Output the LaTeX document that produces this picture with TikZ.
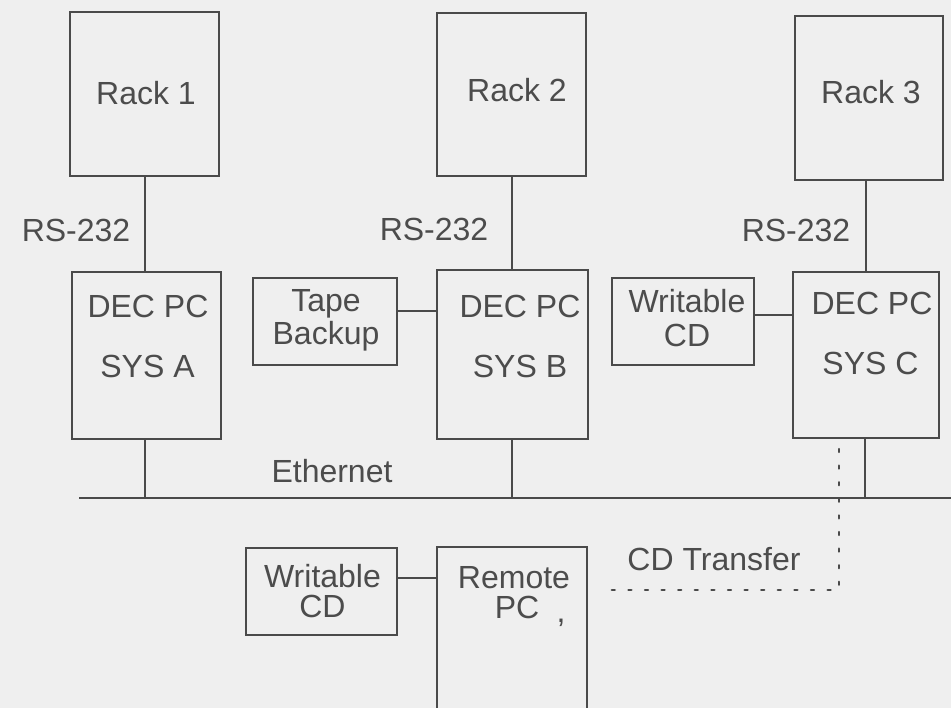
\documentclass[tikz,border=0pt]{standalone}
\usepackage{fontspec}
\setmainfont{Liberation Sans}
\definecolor{ink}{HTML}{4A4A4A}
\definecolor{txt}{HTML}{4C4C4C}
\definecolor{paper}{HTML}{EFEFEF}
\begin{document}
\begin{tikzpicture}[x=1pt,y=-1pt,
  box/.style={draw=ink,line width=2pt,rectangle,inner sep=0pt},
  wire/.style={draw=ink,line width=2pt},
  dotwire/.style={draw=ink,line width=2.4pt,line cap=round,dash pattern=on 3pt off 13.6pt},
  lbl/.style={anchor=base,text=txt,inner sep=0pt,font=\fontsize{32}{38}\selectfont}]
\fill[paper] (0,0) rectangle (951,708);
\useasboundingbox (0,0) rectangle (951,708);
\clip (0,0) rectangle (951,708);

% boxes
\node[box,minimum width=149pt,minimum height=164pt] (rack1) at (144.5,94) {};
\node[box,minimum width=149pt,minimum height=163pt] (rack2) at (511.5,94.5) {};
\node[box,minimum width=148pt,minimum height=164pt] (rack3) at (869,98) {};
\node[box,minimum width=149pt,minimum height=167pt] (sysa) at (146.5,355.5) {};
\node[box,minimum width=151pt,minimum height=169pt] (sysb) at (512.5,354.5) {};
\node[box,minimum width=146pt,minimum height=166pt] (sysc) at (866,355) {};
\node[box,minimum width=144pt,minimum height=87pt] (tape) at (325,321.5) {};
\node[box,minimum width=142pt,minimum height=87pt] (wcdtop) at (683,321.5) {};
\node[box,minimum width=151pt,minimum height=87pt] (wcdbot) at (321.5,591.5) {};
\node[box,minimum width=150pt,minimum height=173pt] (remote) at (512,633.5) {};

% texts
\node[lbl] (t-rack1) at (146,105) {Rack 1};
\node[lbl] (t-rack2) at (517,102) {Rack 2};
\node[lbl] (t-rack3) at (871,103.5) {Rack 3};
\node[lbl] (t-rs1) at (76,242) {RS-232};
\node[lbl] (t-rs2) at (434,241) {RS-232};
\node[lbl] (t-rs3) at (796,242) {RS-232};
\node[lbl] (t-deca) at (148,318) {DEC PC};
\node[lbl] (t-sysa) at (147.5,378) {SYS A};
\node[lbl] (t-decb) at (520,318) {DEC PC};
\node[lbl] (t-sysb) at (520,378) {SYS B};
\node[lbl] (t-decc) at (872,315) {DEC PC};
\node[lbl] (t-sysc) at (870.5,375) {SYS C};
\node[lbl] (t-tape1) at (326,312) {Tape};
\node[lbl] (t-tape2) at (326,345) {Backup};
\node[lbl] (t-wcd1a) at (687,313) {Writable};
\node[lbl] (t-wcd1b) at (687,347) {CD};
\node[lbl] (t-wcd2a) at (322.5,587) {Writable};
\node[lbl] (t-wcd2b) at (322.5,617) {CD};
\node[lbl] (t-rem1) at (514,588) {Remote};
\node[lbl] (t-rem2) at (517,618) {PC};
\node[lbl] (t-comma) at (561,622) {,};
\node[lbl] (t-eth) at (332,483) {Ethernet};
\node[lbl] (t-cdt) at (714,570) {CD Transfer};

% ethernet bus
\coordinate (ethL) at (79,498);
\coordinate (ethR) at (951,498);
\draw[wire] (ethL) -- (ethR);

% vertical links
\draw[wire] (rack1.south) -- (rack1.south |- sysa.north);
\draw[wire] (rack2.south) -- (rack2.south |- sysb.north);
\draw[wire] (sysc.north) -- (sysc.north |- rack3.south);
\draw[wire] (rack1.south |- sysa.south) -- (rack1.south |- ethL);
\draw[wire] (rack2.south |- sysb.south) -- (rack2.south |- ethL);
\draw[wire] ([xshift=-1pt]sysc.south) -- ([xshift=-1pt]sysc.south |- ethL);

% horizontal links
\draw[wire] ([yshift=10.5pt]tape.east) -- ([yshift=10.5pt]tape.east -| sysb.west);
\draw[wire] ([yshift=6.5pt]wcdtop.east) -- ([yshift=6.5pt]wcdtop.east -| sysc.west);
\draw[wire] ([yshift=13.5pt]wcdbot.east) -- ([yshift=13.5pt]wcdbot.east -| remote.west);

% CD transfer dotted path
\coordinate (dcorner) at (839,590);
\coordinate (dend) at (600,590);
\draw[dotwire] ([xshift=-27pt,yshift=-10pt]sysc.south) -- (dcorner) -- (dend);
\end{tikzpicture}
\end{document}
